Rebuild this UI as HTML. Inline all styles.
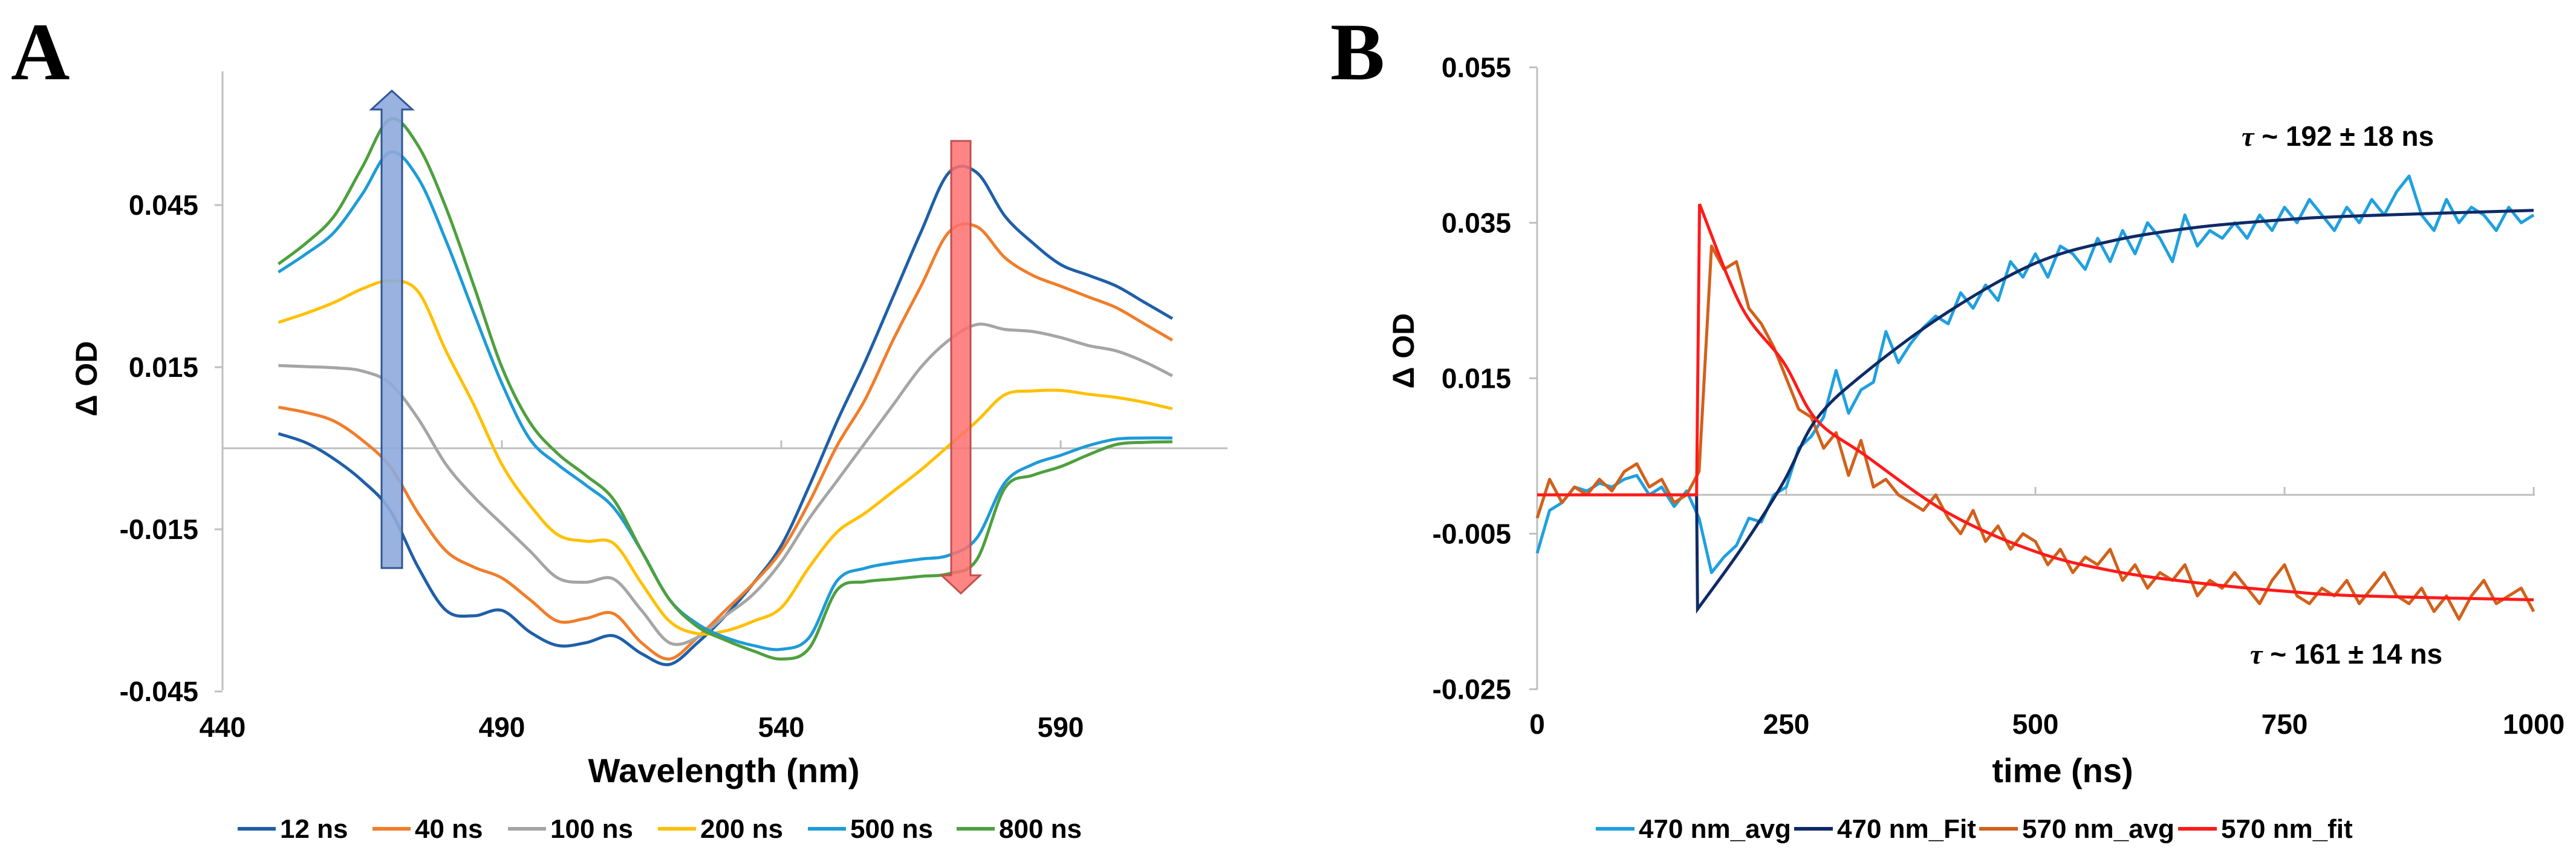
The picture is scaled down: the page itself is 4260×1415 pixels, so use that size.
<!DOCTYPE html>
<html><head><meta charset="utf-8"><style>
html,body{margin:0;padding:0;background:#fff;}
svg{display:block;}
text{font-family:"Liberation Sans",Arial,sans-serif;}
</style></head><body>
<svg id="fig" width="4260" height="1415" viewBox="0 0 4260 1415" xmlns="http://www.w3.org/2000/svg">
<g id="panelA"></g>
<g id="panelB"></g>
</svg>
<script>
// ---------- Panel A data ----------
const wavelengths = [450,455,460,465,470,475,480,485,490,495,500,505,510,515,520,525,530,535,540,545,550,555,560,565,570,575,580,585,590,595,600,605,610];
const s12  = [0.0027,0.001,-0.002,-0.006,-0.0115,-0.022,-0.030,-0.031,-0.030,-0.034,-0.0365,-0.036,-0.0347,-0.038,-0.040,-0.036,-0.031,-0.025,-0.018,-0.007,0.005,0.016,0.028,0.040,0.051,0.051,0.043,0.038,0.034,0.032,0.030,0.027,0.024];
const s40  = [0.0076,0.0066,0.005,0.0015,-0.0034,-0.012,-0.019,-0.022,-0.024,-0.028,-0.032,-0.0315,-0.0306,-0.036,-0.039,-0.035,-0.030,-0.025,-0.019,-0.010,0.0005,0.009,0.020,0.030,0.040,0.041,0.0353,0.032,0.030,0.028,0.026,0.023,0.020];
const s100 = [0.0153,0.0151,0.0149,0.0143,0.012,0.0055,-0.003,-0.009,-0.014,-0.019,-0.024,-0.0248,-0.0242,-0.030,-0.036,-0.035,-0.031,-0.027,-0.021,-0.013,-0.006,0.001,0.008,0.015,0.020,0.0229,0.022,0.0216,0.0205,0.019,0.018,0.016,0.0134];
const s200 = [0.0233,0.025,0.027,0.0295,0.031,0.029,0.018,0.008,-0.003,-0.0105,-0.016,-0.0172,-0.0176,-0.025,-0.032,-0.0343,-0.0338,-0.032,-0.0295,-0.022,-0.0155,-0.012,-0.008,-0.004,0.0005,0.005,0.0099,0.0106,0.0107,0.010,0.0094,0.0085,0.0073];
const s500 = [0.0326,0.036,0.040,0.047,0.0548,0.050,0.0384,0.025,0.012,0.0017,-0.003,-0.0068,-0.011,-0.019,-0.028,-0.0325,-0.035,-0.0365,-0.0372,-0.035,-0.0245,-0.0222,-0.0212,-0.0205,-0.0198,-0.0166,-0.0064,-0.003,-0.0013,0.0005,0.0017,0.0019,0.0019];
const s800 = [0.0341,0.038,0.043,0.052,0.0609,0.056,0.0445,0.030,0.015,0.0048,-0.001,-0.005,-0.0095,-0.019,-0.028,-0.033,-0.0355,-0.0375,-0.039,-0.037,-0.0262,-0.0247,-0.0242,-0.0237,-0.0232,-0.0206,-0.0074,-0.005,-0.0034,-0.0012,0.0007,0.0011,0.0012];
const seriesNamesA = ["12 ns","40 ns","100 ns","200 ns","500 ns","800 ns"];
const xTicksA = [440,490,540,590];
const yTicksA = [0.045,0.015,-0.015,-0.045];
const yTickLabelsA = ["0.045","0.015","-0.015","-0.045"];

// ---------- Panel B data ----------
const avgStep = 12.5;
const avg470 = [-0.0075,-0.002,-0.001,0.001,0.0005,0.0015,0.001,0.002,0.0025,0.000,0.001,-0.0015,0.0005,-0.003,-0.010,-0.008,-0.0065,-0.003,-0.0035,0.000,0.001,0.006,0.0075,0.010,0.016,0.0105,0.0135,0.0145,0.021,0.017,0.0195,0.0215,0.023,0.022,0.026,0.024,0.027,0.025,0.030,0.028,0.031,0.028,0.032,0.031,0.029,0.033,0.030,0.034,0.031,0.035,0.033,0.030,0.036,0.032,0.034,0.033,0.035,0.033,0.036,0.034,0.037,0.035,0.038,0.036,0.034,0.037,0.035,0.038,0.036,0.039,0.041,0.036,0.034,0.038,0.035,0.037,0.036,0.034,0.037,0.035,0.036];
const avg570 = [-0.003,0.002,-0.001,0.001,0.000,0.002,0.0005,0.003,0.004,0.001,0.002,-0.001,0.000,0.003,0.032,0.029,0.030,0.024,0.022,0.019,0.015,0.011,0.010,0.006,0.008,0.0025,0.007,0.001,0.002,0.000,-0.001,-0.002,0.000,-0.003,-0.005,-0.002,-0.006,-0.004,-0.007,-0.005,-0.006,-0.009,-0.007,-0.010,-0.008,-0.009,-0.007,-0.011,-0.009,-0.012,-0.010,-0.011,-0.009,-0.013,-0.011,-0.012,-0.010,-0.012,-0.014,-0.011,-0.009,-0.013,-0.014,-0.012,-0.013,-0.011,-0.014,-0.012,-0.010,-0.013,-0.014,-0.012,-0.015,-0.013,-0.016,-0.013,-0.011,-0.014,-0.013,-0.012,-0.015];
const fit470T = [0,160,161,205,247,280,329,412,500,578,661,750,826,1000];
const fit470V = [0,0,-0.0147,-0.0069,0.0016,0.0097,0.0157,0.0235,0.0298,0.0327,0.0344,0.0354,0.0359,0.0366];
const fit570T = [0,160,163,205,247,280,329,412,500,578,661,750,826,1000];
const fit570V = [0,0,0.0374,0.0242,0.0171,0.0097,0.0051,-0.0023,-0.0073,-0.0098,-0.0113,-0.0124,-0.0130,-0.0135];
const xTicksB = [0,250,500,750,1000];
const yTicksB = [0.055,0.035,0.015,-0.005,-0.025];
const yTickLabelsB = ["0.055","0.035","0.015","-0.005","-0.025"];
const seriesNamesB = ["470 nm_avg","470 nm_Fit","570 nm_avg","570 nm_fit"];

const NS = "http://www.w3.org/2000/svg";
function mk(parent, tag, attrs, txt){
  const e = document.createElementNS(NS, tag);
  for (const k in attrs) e.setAttribute(k, attrs[k]);
  if (txt !== undefined) e.textContent = txt;
  parent.appendChild(e);
  return e;
}
function smoothPath(pts){
  if (pts.length < 2) return "";
  let d = "M" + pts[0][0].toFixed(1) + "," + pts[0][1].toFixed(1);
  for (let i = 0; i < pts.length - 1; i++){
    const p0 = pts[i-1] || pts[i], p1 = pts[i], p2 = pts[i+1], p3 = pts[i+2] || p2;
    const c1x = p1[0] + (p2[0]-p0[0])/6, c1y = p1[1] + (p2[1]-p0[1])/6;
    const c2x = p2[0] - (p3[0]-p1[0])/6, c2y = p2[1] - (p3[1]-p1[1])/6;
    d += " C" + c1x.toFixed(1)+","+c1y.toFixed(1)+" "+c2x.toFixed(1)+","+c2y.toFixed(1)+" "+p2[0].toFixed(1)+","+p2[1].toFixed(1);
  }
  return d;
}
const SERIF = "font-family:'Liberation Serif',serif;font-weight:bold;";

// ================= Panel A =================
const A = document.getElementById("panelA");
const xA = w => 368 + (w - 440) * (462/50);
const yA = v => 741 - v * (268/0.03);
const colorsA = ["#1f5fa8","#f07d2a","#a5a5a5","#ffc000","#1e9bd7","#4ea03e"];
const dataA = [s12,s40,s100,s200,s500,s800];

let e;
e = mk(A,"text",{x:18,y:131,style:SERIF+"font-size:135px"},"A");



e = mk(A,"line",{x1:368,y1:118,x2:368,y2:1141,stroke:"#bfbfbf","stroke-width":3});


e = mk(A,"line",{x1:368,y1:741,x2:2030,y2:741,stroke:"#bfbfbf","stroke-width":3});



yTicksA.forEach((v,i)=>{
  const t = mk(A,"line",{x1:355,y1:yA(v),x2:368,y2:yA(v),stroke:"#bfbfbf","stroke-width":3});
  
  
  const l = mk(A,"text",{x:328,y:yA(v)+16,"text-anchor":"end","font-weight":"bold","font-size":46},yTickLabelsA[i]);
  
  
});
xTicksA.forEach(w=>{
  if (w !== 440){
    const t = mk(A,"line",{x1:xA(w),y1:728,x2:xA(w),y2:741,stroke:"#bfbfbf","stroke-width":3});
    
    
  }
  const l = mk(A,"text",{x:xA(w),y:1218,"text-anchor":"middle","font-weight":"bold","font-size":46},String(w));
  
  
});
e = mk(A,"text",{x:1197,y:1293,"text-anchor":"middle","font-weight":"bold","font-size":56},"Wavelength (nm)");


e = mk(A,"text",{x:0,y:0,transform:"translate(160,626) rotate(-90)","text-anchor":"middle","font-weight":"bold","font-size":50},"Δ OD");



dataA.forEach((s,k)=>{
  const pts = wavelengths.map((w,i)=>[xA(w), yA(s[i])]);
  const p = mk(A,"path",{d:smoothPath(pts),fill:"none",stroke:colorsA[k],"stroke-width":5,"stroke-linejoin":"round"});
  
  
});

e = mk(A,"path",{d:"M631,939 L631,181 L614,181 L648,150 L682,181 L665,181 L665,939 Z",fill:"#8eaadb","fill-opacity":0.9,stroke:"#2f5597","stroke-width":3});


e = mk(A,"path",{d:"M1573,233 L1605,233 L1605,951 L1621,951 L1589,981 L1557,951 L1573,951 Z",fill:"#ff7070","fill-opacity":0.85,stroke:"#c0504d","stroke-width":3});



const legXA = [393,616,840,1088,1336,1582];
seriesNamesA.forEach((n,k)=>{
  const g = mk(A,"g",{});
  
  
  mk(g,"line",{x1:legXA[k],y1:1370,x2:legXA[k]+63,y2:1370,stroke:colorsA[k],"stroke-width":6});
  mk(g,"text",{x:legXA[k]+70,y:1385,"font-weight":"bold","font-size":44},n);
});

// ================= Panel B =================
const B = document.getElementById("panelB");
const xB = t => 2542 + t * (412/250);
const yB = v => 818 - v * (257/0.02);

e = mk(B,"text",{x:2200,y:131,style:SERIF+"font-size:135px"},"B");


e = mk(B,"line",{x1:2542,y1:112,x2:2542,y2:1140,stroke:"#bfbfbf","stroke-width":3});


e = mk(B,"line",{x1:2542,y1:818,x2:4192,y2:818,stroke:"#bfbfbf","stroke-width":3});


yTicksB.forEach((v,i)=>{
  const t = mk(B,"line",{x1:2529,y1:yB(v),x2:2542,y2:yB(v),stroke:"#bfbfbf","stroke-width":3});
  
  
  const l = mk(B,"text",{x:2499,y:yB(v)+16,"text-anchor":"end","font-weight":"bold","font-size":46},yTickLabelsB[i]);
  
  
});
xTicksB.forEach(t=>{
  if (t !== 0){
    const tk = mk(B,"line",{x1:xB(t),y1:805,x2:xB(t),y2:818,stroke:"#bfbfbf","stroke-width":3});
    
    
  }
  const l = mk(B,"text",{x:xB(t),y:1213,"text-anchor":"middle","font-weight":"bold","font-size":46},String(t));
  
  
});
e = mk(B,"text",{x:3411,y:1293,"text-anchor":"middle","font-weight":"bold","font-size":56},"time (ns)");


e = mk(B,"text",{x:0,y:0,transform:"translate(2338,580) rotate(-90)","text-anchor":"middle","font-weight":"bold","font-size":50},"Δ OD");



function avgPath(arr){
  return arr.map((v,i)=>(i?"L":"M")+xB(i*avgStep).toFixed(1)+","+yB(v).toFixed(1)).join(" ");
}
function fitPath(T,V){
  const pts = T.map((t,i)=>[xB(t),yB(V[i])]);
  return "M"+pts[0][0]+","+pts[0][1]+" L"+pts[1][0]+","+pts[1][1]+" "+smoothPath(pts.slice(2)).replace("M","L");
}
e = mk(B,"path",{d:avgPath(avg470),fill:"none",stroke:"#1fa0e0","stroke-width":5,"stroke-linejoin":"round"});


e = mk(B,"path",{d:avgPath(avg570),fill:"none",stroke:"#d2601a","stroke-width":5,"stroke-linejoin":"round"});


e = mk(B,"path",{d:fitPath(fit470T,fit470V),fill:"none",stroke:"#0f2a66","stroke-width":5});


e = mk(B,"path",{d:fitPath(fit570T,fit570V),fill:"none",stroke:"#ff1a1a","stroke-width":5});



e = mk(B,"text",{x:3707,y:241,"font-weight":"bold","font-size":46});
e.innerHTML = '<tspan style="font-family:\'Liberation Serif\',serif;font-style:italic">τ</tspan> ~ 192 ± 18 ns';


e = mk(B,"text",{x:3721,y:1097,"font-weight":"bold","font-size":46});
e.innerHTML = '<tspan style="font-family:\'Liberation Serif\',serif;font-style:italic">τ</tspan> ~ 161 ± 14 ns';



const legXB = [2639,2967,3273,3602];
const colorsB = ["#1fa0e0","#0f2a66","#d2601a","#ff1a1a"];
seriesNamesB.forEach((n,k)=>{
  const g = mk(B,"g",{});
  
  
  mk(g,"line",{x1:legXB[k],y1:1370,x2:legXB[k]+64,y2:1370,stroke:colorsB[k],"stroke-width":6});
  mk(g,"text",{x:legXB[k]+71,y:1385,"font-weight":"bold","font-size":44},n);
});
</script>
</body></html>
